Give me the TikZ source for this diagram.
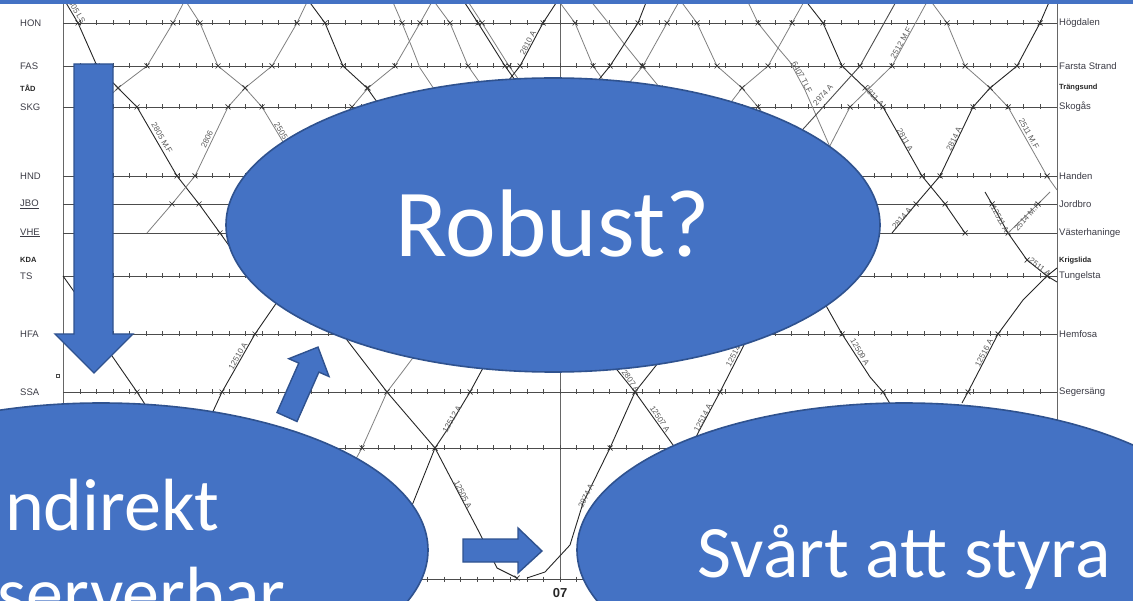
\documentclass[tikz,border=0pt]{standalone}
\usepackage{fontspec}
\setmainfont{Liberation Sans}
\newfontfamily\slidefont{Carlito}
\usetikzlibrary{shapes.geometric}
\definecolor{slideblue}{HTML}{4472C4}
\definecolor{slideedge}{HTML}{2F528F}
\definecolor{stn}{HTML}{3C3C46}

% a train run: polyline through the given points, with a meeting mark
% wherever it passes a station line
\newcommand\trainrun[3]{%
  \draw[#1] (#2) \foreach \tx/\ty in {#3} { -- (\tx,\ty) };
  \foreach \tx/\ty in {#3} {%
    \pgfmathparse{(\ty==23)||(\ty==66)||(\ty==88)||(\ty==107)||(\ty==176)||(\ty==204)||(\ty==233)||(\ty==260)||(\ty==276)||(\ty==334)||(\ty==392)||(\ty==448)||(\ty==578)}%
    \ifdim\pgfmathresult pt>0.5pt
      \draw[meetmark] (\tx,\ty) ++(-2.5,-2.5) -- ++(5,5) ++(0,-5) -- ++(-5,5);
    \fi}%
}

\begin{document}
\begin{tikzpicture}[x=1pt,y=-1pt,
  track/.style={draw=black!70, line width=0.8pt},
  tickmark/.style={draw=black!70, line width=0.6pt},
  meetmark/.style={draw=black!80, line width=0.7pt},
  trainblk/.style={draw=black!85, line width=0.9pt, line join=round},
  traingry/.style={draw=black!50, line width=0.8pt, line join=round},
  axisline/.style={draw=black!60, line width=1pt},
  stnL/.style={anchor=west, inner sep=0pt, text=stn, font=\fontsize{9.5}{10}\selectfont},
  stnB/.style={anchor=west, inner sep=0pt, text=black!85, font=\bfseries\fontsize{7.5}{8}\selectfont},
  trainlbl/.style={inner sep=0pt, text=black!65, font=\fontsize{8}{8}\selectfont},
  bubble/.style={ellipse, fill=slideblue, draw=slideedge, line width=1.6pt,
    minimum width=654pt, minimum height=294pt, inner sep=0pt},
  bubbletext/.style={anchor=base, inner sep=0pt, text=white},
  blockarrow/.style={fill=slideblue, draw=slideedge, line width=1.4pt, line join=miter},
]
\useasboundingbox (0,0) rectangle (1133,601);
\clip (0,0) rectangle (1133,601);
\fill[white] (0,0) rectangle (1133,601);

% ---- train graph: axes and hour line ----
\draw[axisline] (63,0) -- (63,580);
\draw[axisline] (1057,0) -- (1057,580);
\draw[axisline] (560,0) -- (560,580);

% station lines
\foreach \yy in {23,66,107,176,204,233,276,334,392,448,579}
  \draw[track] (63,\yy) -- (1057,\yy);
% minute ticks
\foreach \yy in {23,66,107,176,276,334,392,448,579}
  \foreach \xx in {80,96.55,...,1041}
    \draw[tickmark] (\xx,\yy) ++(0,-2.5) -- ++(0,5);

% station names, left
\node[stnL] (lHON) at (20,23) {HON};
\node[stnL] (lFAS) at (20,66) {FAS};
\node[stnB] (lTAD) at (20,88) {TÅD};
\node[stnL] (lSKG) at (20,107) {SKG};
\node[stnL] (lHND) at (20,176) {HND};
\node[stnL] (lJBO) at (20,204) {\underline{JBO}};
\node[stnL] (lVHE) at (20,233) {\underline{VHE}};
\node[stnB] (lKDA) at (20,260) {KDA};
\node[stnL] (lTS)  at (20,276) {TS};
\node[stnL] (lHFA) at (20,334) {HFA};
\node[stnL] (lSSA) at (20,392) {SSA};
\draw[black!70, line width=0.5pt] (56.5,374.5) rectangle (59.5,377.5);

% station names, right
\node[stnL] (rHON) at (1059,23) {Högdalen};
\node[stnL] (rFAS) at (1059,66) {Farsta Strand};
\node[stnB] (rTAD) at (1059,88) {Trängsund};
\node[stnL] (rSKG) at (1059,107) {Skogås};
\node[stnL] (rHND) at (1059,176) {Handen};
\node[stnL] (rJBO) at (1059,204) {Jordbro};
\node[stnL] (rVHE) at (1059,233) {Västerhaninge};
\node[stnB] (rKDA) at (1059,261) {Krigslida};
\node[stnL] (rTS)  at (1059,276) {Tungelsta};
\node[stnL] (rHFA) at (1059,334) {Hemfosa};
\node[stnL] (rSSA) at (1059,392) {Segersäng};

\node[inner sep=0pt, font=\bfseries\fontsize{13}{13}\selectfont, text=black!85] (hour) at (560,593) {07};

% ---- train paths ----
\trainrun{trainblk}{62,-4}{78/23, 97/66, 118/88, 137/107, 177/176, 199/204, 220/233, 250/275}
\trainrun{traingry}{147,233}{172/204, 195/176, 228/107, 245/88, 272/66, 297/23, 308/0}
\trainrun{traingry}{185,0}{200/23, 218/66, 245/88, 262/107, 300/170}
\trainrun{traingry}{95,110}{118/88, 147/66, 173/23, 185/0}
\trainrun{trainblk}{308,0}{325/23, 343/66, 367/88, 390/120}
\trainrun{traingry}{340,120}{352/107, 368/88, 395/66, 420/23, 433/0}
\trainrun{traingry}{392,0}{402/23, 413/50, 420/68, 432/86, 445/105}
\trainrun{traingry}{433,0}{450/23, 468/66, 485/90}
\trainrun{trainblk}{463,0}{478/23, 505/66, 515/80}
\trainrun{traingry}{467,0}{482/23, 509/66, 519/80}
\trainrun{trainblk}{505,85}{520/66, 543/23, 558/0}
\trainrun{traingry}{558,0}{575/23, 593/66, 606/84}
\trainrun{traingry}{590,0}{606/20, 625/45, 642/66, 660/88}
\trainrun{trainblk}{647,0}{638/23, 610/66, 592/88}
\trainrun{traingry}{680,0}{667/23, 643/66, 625/88}
\trainrun{traingry}{680,0}{697/23, 717/66, 742/88, 758/107, 775/130}
\trainrun{traingry}{747,0}{758/23, 778/48, 790/62, 805/90, 830/147, 845/175}
\trainrun{traingry}{725,110}{742/88, 768/66, 792/23, 805/0}
\trainrun{trainblk}{805,0}{823/23, 842/66, 865/88, 883/107, 922/176, 945/204, 965/233}
\trainrun{trainblk, draw=black!70}{770,165}{805/127, 860/66, 897/0}
\trainrun{traingry}{820,165}{850/107, 892/66, 928/0}
\trainrun{traingry}{930,0}{947/23, 965/66, 990/88, 1008/107, 1047/176, 1057/190}
\trainrun{trainblk}{892,233}{916/204, 940/176, 973/107, 990/88, 1017/66, 1040/23, 1050/0}
\trainrun{trainblk}{985,192}{992/204, 1008/233, 1027/260, 1047/276, 1057/282}
\trainrun{traingry}{1008,233}{1038/204, 1050/192}
\trainrun{trainblk}{962,403}{968/392, 998/334, 1023/300, 1047/276, 1057/268}
\trainrun{trainblk}{63,276}{80/300, 110/353, 137/392, 152/415}
\trainrun{trainblk}{210,418}{222/392, 255/334, 275/305, 292/282}
\trainrun{trainblk}{340,330}{347/340, 387/392, 435/448, 478/530, 497/568, 517/578}
\trainrun{traingry}{352,466}{362/448, 387/392, 400/375, 415/355}
\trainrun{trainblk}{400,530}{413/503, 435/448, 447/430, 470/392, 490/355}
\trainrun{trainblk}{527,578}{545/572, 570/545, 583/503, 610/448, 635/392, 662/358}
\trainrun{trainblk}{605,355}{635/392, 673/445, 690/470}
\trainrun{trainblk}{690,450}{698/433, 720/392, 745/343, 755/325}
\trainrun{trainblk}{820,295}{842/334, 870/377, 883/392, 895/412}

% train numbers
\foreach \px/\py/\ang/\txt [count=\i] in {
  76/10/-60/2805 LS, 162/138/-60/2805 M.F, 207/139/64/2806, 281/131/-58/2505,
  528/43/62/2810 A, 802/77/-62/6407 TLF, 823/95/48/2974 A, 874/96/-47/2811 A,
  905/140/-61/2811 A, 901/43/60/2512 M.F, 954/139/64/2814 A, 1029/134/-61/2511 M.F,
  902/218/50/2814 A, 1000/219/-62/12511 A, 1027/217/48/2514 M.F, 1040/267/-38/2511 A,
  238/356/60/12510 A, 452/419/60/12512 A, 463/495/-63/12505 A, 586/496/64/2974 A,
  631/381/-55/2807 A, 660/419/-57/12507 A, 703/418/62/12514 A, 735/353/62/12514 A,
  860/352/-60/12509 A, 984/353/63/12516 A}
  \node[trainlbl, rotate=\ang] (tn\i) at (\px,\py) {\txt};

% ---- speech bubbles ----
\node[bubble] (robust) at (553,225) {};
\node[bubble] (obs) at (101,550) {};
\node[bubble] (hard) at (904,550) {};

\node[bubbletext, font=\slidefont\fontsize{96}{110}\selectfont] (robustTxt) at (553,257) {Robust?};
\node[bubbletext, font=\slidefont\fontsize{74}{88}\selectfont] (obsTxtA) at (103,530) {Indirekt};
\node[bubbletext, font=\slidefont\fontsize{74}{88}\selectfont] (obsTxtB) at (103,618) {observerbar};
\node[bubbletext, font=\slidefont\fontsize{74}{88}\selectfont] (hardTxt) at (904,577) {Svårt att styra};

% ---- block arrows ----
\draw[blockarrow] (74,64) -- (113,64) -- (113,334) -- (133,334) -- (94,373) -- (55,334) -- (74,334) -- cycle;
\draw[blockarrow] (277,412.5) -- (297,421.5) -- (318.9,372.1) -- (329,376.5) -- (318,347.1) -- (288.8,358.7) -- (298.8,363.1) -- cycle;
\draw[blockarrow] (463,539) -- (518,539) -- (518,528) -- (542,551) -- (518,573) -- (518,562) -- (463,562) -- cycle;

% slide header strip
\fill[slideblue] (0,0) rectangle (1133,4);
\end{tikzpicture}
\end{document}
